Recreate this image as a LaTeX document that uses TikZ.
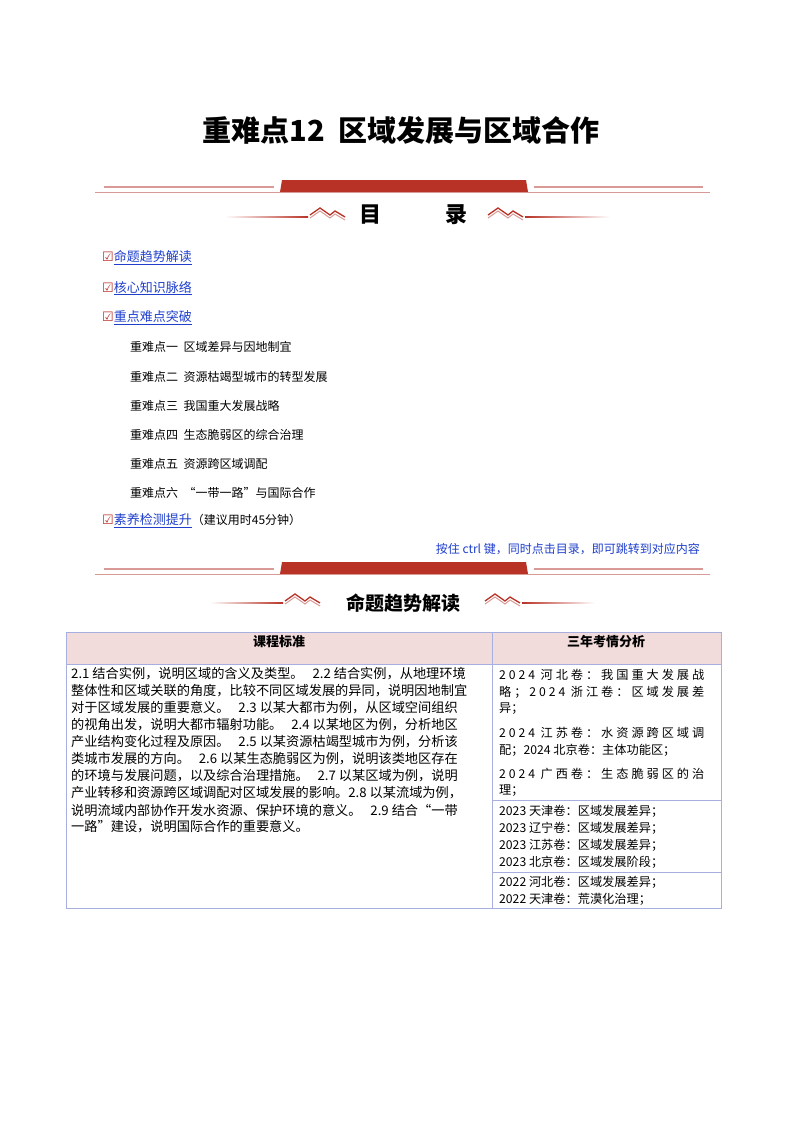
\documentclass[tikz,border=0pt]{standalone}
\usepackage{fontspec}
\setmainfont{Noto Sans CJK SC}
\newfontfamily\spaced[LetterSpace=24]{Noto Sans CJK SC}
\newfontfamily\sym{DejaVu Sans}
\begin{document}
\begin{tikzpicture}[x=1pt,y=-1pt,
  tocitem/.style={anchor=west,inner sep=0pt,font=\fontsize{13}{13}\selectfont},
  subitem/.style={anchor=west,inner sep=0pt,font=\fontsize{12}{12}\selectfont},
  cell/.style={anchor=west,inner sep=0pt,font=\fontsize{12.2}{12}\selectfont},
  tblline/.style={draw=cyan!30!blue!35,line width=0.8pt}]
\definecolor{dred}{HTML}{B83226}
\definecolor{lred}{HTML}{D99A97}
\definecolor{pinkf}{HTML}{F2DCDB}
\definecolor{lnk}{HTML}{1F3FCC}
\useasboundingbox (0,0) rectangle (800,1132);
\fill[white] (0,0) rectangle (800,1132);
\node (title) at (401,130) {\fontsize{29}{29}\selectfont\bfseries 重难点12\ \ 区域发展与区域合作};
% header bars
\foreach \yy/\nm in {180/a,562/b}{
  \fill[dred] (282,\yy) -- (526,\yy) -- (528,\yy+12) -- (280,\yy+12) -- cycle;
  \draw[lred,line width=1.2pt] (104,\yy+7) -- (274,\yy+7) (534,\yy+7) -- (703,\yy+7);
  \draw[lred,line width=0.8pt] (95,\yy+12) -- (710,\yy+12);
}
\begin{scope}[shift={(0,217)}]
  \shade[left color=white,right color=dred] (225,-0.6) rectangle (308,0.6);
  \shade[left color=dred,right color=white] (525,-0.6) rectangle (610,0.6);
  \draw[dred,line width=1.3pt] (310,-2) -- (320,-9) -- (330,-2) -- (335,-6) -- (345,0);
  \draw[lred,line width=1pt] (310,1) -- (320,-6) -- (330,1) -- (335,-3) -- (345,3);
  \draw[dred,line width=1.3pt] (488,-2) -- (498,-9) -- (508,-2) -- (513,-6) -- (523,0);
  \draw[lred,line width=1pt] (488,1) -- (498,-6) -- (508,1) -- (513,-3) -- (523,3);
\end{scope}
\node (mu) at (370,215) {\fontsize{22}{22}\selectfont\bfseries 目};
\node (lu) at (456,215) {\fontsize{22}{22}\selectfont\bfseries 录};
\begin{scope}[shift={(0,603)}]
  \shade[left color=white,right color=dred] (210,-0.6) rectangle (283,0.6);
  \shade[left color=dred,right color=white] (522,-0.6) rectangle (595,0.6);
  \draw[dred,line width=1.3pt] (285,-2) -- (295,-9) -- (305,-2) -- (310,-6) -- (320,0);
  \draw[lred,line width=1pt] (285,1) -- (295,-6) -- (305,1) -- (310,-3) -- (320,3);
  \draw[dred,line width=1.3pt] (485,-2) -- (495,-9) -- (505,-2) -- (510,-6) -- (520,0);
  \draw[lred,line width=1pt] (485,1) -- (495,-6) -- (505,1) -- (510,-3) -- (520,3);
\end{scope}
\node (mt) at (403,603) {\fontsize{19}{19}\selectfont\bfseries 命题趋势解读};
% TOC
\node[tocitem] (t1) at (102,258) {{\sym\color{dred}☑}\color{lnk}\underline{命题趋势解读}};
\node[tocitem] (t2) at (102,288) {{\sym\color{dred}☑}\color{lnk}\underline{核心知识脉络}};
\node[tocitem] (t3) at (102,318) {{\sym\color{dred}☑}\color{lnk}\underline{重点难点突破}};
\node[subitem] (s1) at (130,347) {重难点一\ \ 区域差异与因地制宜};
\node[subitem] (s2) at (130,377) {重难点二\ \ 资源枯竭型城市的转型发展};
\node[subitem] (s3) at (130,406) {重难点三\ \ 我国重大发展战略};
\node[subitem] (s4) at (130,435) {重难点四\ \ 生态脆弱区的综合治理};
\node[subitem] (s5) at (130,464) {重难点五\ \ 资源跨区域调配};
\node[subitem] (s6) at (130,493) {重难点六\ \ “一带一路”与国际合作};
\node[tocitem] (t4) at (102,521) {{\sym\color{dred}☑}\color{lnk}\underline{素养检测提升}\color{black}\fontsize{12}{12}\selectfont（建议用时45分钟）};
\node[anchor=east,inner sep=0pt,font=\fontsize{12}{12}\selectfont,text=lnk] (hint) at (700,549) {按住\ ctrl\ 键，同时点击目录，即可跳转到对应内容};
% table
\fill[pinkf] (66,632) rectangle (721,664);
\draw[tblline] (66,632) rectangle (721,908);
\draw[tblline] (66,664) -- (721,664) (492,632) -- (492,908) (492,800) -- (721,800) (492,872) -- (721,872);
\node[font=\fontsize{13}{13}\selectfont\bfseries] (h1) at (279,642) {课程标准};
\node[font=\fontsize{13}{13}\selectfont\bfseries] (h2) at (606,642) {三年考情分析};
\foreach \t [count=\i] in {2.1\ 结合实例，说明区域的含义及类型。\ \ \ 2.2\ 结合实例，从地理环境,
 整体性和区域关联的角度，比较不同区域发展的异同，说明因地制宜,
 对于区域发展的重要意义。\ \ \ 2.3\ 以某大都市为例，从区域空间组织,
 的视角出发，说明大都市辐射功能。\ \ \ 2.4\ 以某地区为例，分析地区,
 产业结构变化过程及原因。\ \ \ 2.5\ 以某资源枯竭型城市为例，分析该,
 类城市发展的方向。\ \ \ 2.6\ 以某生态脆弱区为例，说明该类地区存在,
 的环境与发展问题，以及综合治理措施。\ \ \ 2.7\ 以某区域为例，说明,
 产业转移和资源跨区域调配对区域发展的影响。2.8\ 以某流域为例，,
 说明流域内部协作开发水资源、保护环境的意义。\ \ \ 2.9\ 结合“一带,
 一路”建设，说明国际合作的重要意义。}
  {\node[cell,font=\fontsize{13.2}{13}\selectfont] (l\i) at (71,657+17*\i) {\t};}
\foreach \t/\yy [count=\i] in {{\spaced 2024 河北卷：我国重大发展战}/675, {\spaced 略；2024 浙江卷：区域发展差}/692, 异；/709,
  {\spaced 2024 江苏卷：水资源跨区域调}/733, 配；2024 北京卷：主体功能区；/750,
  {\spaced 2024 广西卷：生态脆弱区的治}/774, 理；/791,
  2023 天津卷：区域发展差异；/811, 2023 辽宁卷：区域发展差异；/828, 2023 江苏卷：区域发展差异；/845, 2023 北京卷：区域发展阶段；/862,
  2022 河北卷：区域发展差异；/882, 2022 天津卷：荒漠化治理；/899}
  {\node[cell] (r\i) at (499,\yy) {\t};}
\end{tikzpicture}
\end{document}
